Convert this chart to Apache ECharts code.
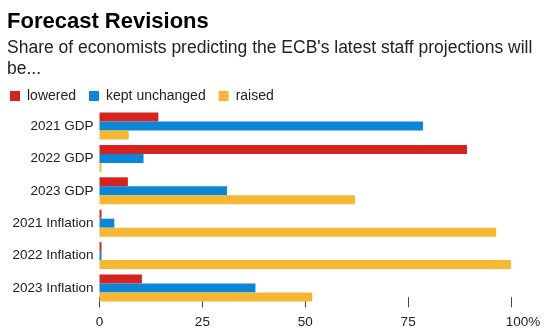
<!DOCTYPE html>
<html>
<head>
<meta charset="utf-8">
<style>
  html, body { margin: 0; padding: 0; background: #fff; }
  #chart { width: 554px; height: 336px; }
</style>
<script src="https://cdn.jsdelivr.net/npm/echarts@6/dist/echarts.min.js"></script>
</head>
<body>
<div id="chart"></div>
<script>
// Forecast categories (top to bottom)
const categories = ['2021 GDP', '2022 GDP', '2023 GDP', '2021 Inflation', '2022 Inflation', '2023 Inflation'];

// Share of economists, percent
const lowered   = [14.3, 89.3, 6.9, 0, 0, 10.3];
const unchanged = [78.6, 10.7, 31.0, 3.6, 0, 37.9];
const raised    = [7.1, 0, 62.1, 96.4, 100, 51.7];

// Value-axis ticks
const tickValues = [0, 25, 50, 75, 100];

const FONT = '"Liberation Sans", Arial, Helvetica, sans-serif';
const RED = '#d5231f';
const BLUE = '#0a86d6';
const YELLOW = '#f6b733';

const chart = echarts.init(document.getElementById('chart'), null, { renderer: 'canvas' });

function barSeries(name, data, color) {
  return {
    name: name,
    type: 'bar',
    data: data,
    barGap: '0%',
    barCategoryGap: '16.7%',
    barMinHeight: 2,
    itemStyle: { color: color },
    emphasis: { disabled: true },
    animation: false
  };
}

chart.setOption({
  animation: false,
  textStyle: { fontFamily: FONT },
  title: [
    {
      text: 'Forecast Revisions',
      left: 7,
      top: 11,
      padding: 0,
      textStyle: { fontFamily: FONT, fontSize: 22, fontWeight: 'bold', color: '#000' }
    },
    {
      text: "Share of economists predicting the ECB's latest staff projections will\nbe...",
      left: 7,
      top: 38,
      padding: 0,
      textStyle: { fontFamily: FONT, fontSize: 17.5, fontWeight: 'normal', color: '#222', lineHeight: 21 }
    }
  ],
  legend: {
    left: 10,
    top: 89,
    padding: 0,
    icon: 'rect',
    itemWidth: 10,
    itemHeight: 10,
    itemGap: 13,
    selectedMode: false,
    textStyle: { fontFamily: FONT, fontSize: 14, color: '#222', padding: [0, 0, 0, 2] },
    data: ['lowered', 'kept unchanged', 'raised']
  },
  grid: {
    left: 99.5,
    right: 43,
    top: 109.8,
    bottom: 31.8,
    containLabel: false
  },
  xAxis: {
    type: 'value',
    min: 0,
    max: 100,
    interval: 25,
    offset: -7,
    axisLine: { show: false },
    splitLine: { show: false },
    axisTick: { show: true, length: 10, lineStyle: { color: '#444', width: 1 } },
    axisLabel: {
      margin: 18,
      fontFamily: FONT,
      fontSize: 13.5,
      color: '#222',
      formatter: function (v) {
        if (tickValues.indexOf(v) < 0) return '';
        return v === 100 ? '{pct|100%}' : String(v);
      },
      rich: {
        pct: { fontFamily: FONT, fontSize: 13.5, color: '#222', padding: [0, 0, 0, 24] }
      }
    }
  },
  yAxis: {
    type: 'category',
    inverse: true,
    data: categories,
    axisLine: { show: false },
    axisTick: { show: false },
    axisLabel: { margin: 6, fontFamily: FONT, fontSize: 13.5, color: '#222' }
  },
  series: [
    barSeries('lowered', lowered, RED),
    barSeries('kept unchanged', unchanged, BLUE),
    barSeries('raised', raised, YELLOW)
  ]
});
</script>
</body>
</html>
